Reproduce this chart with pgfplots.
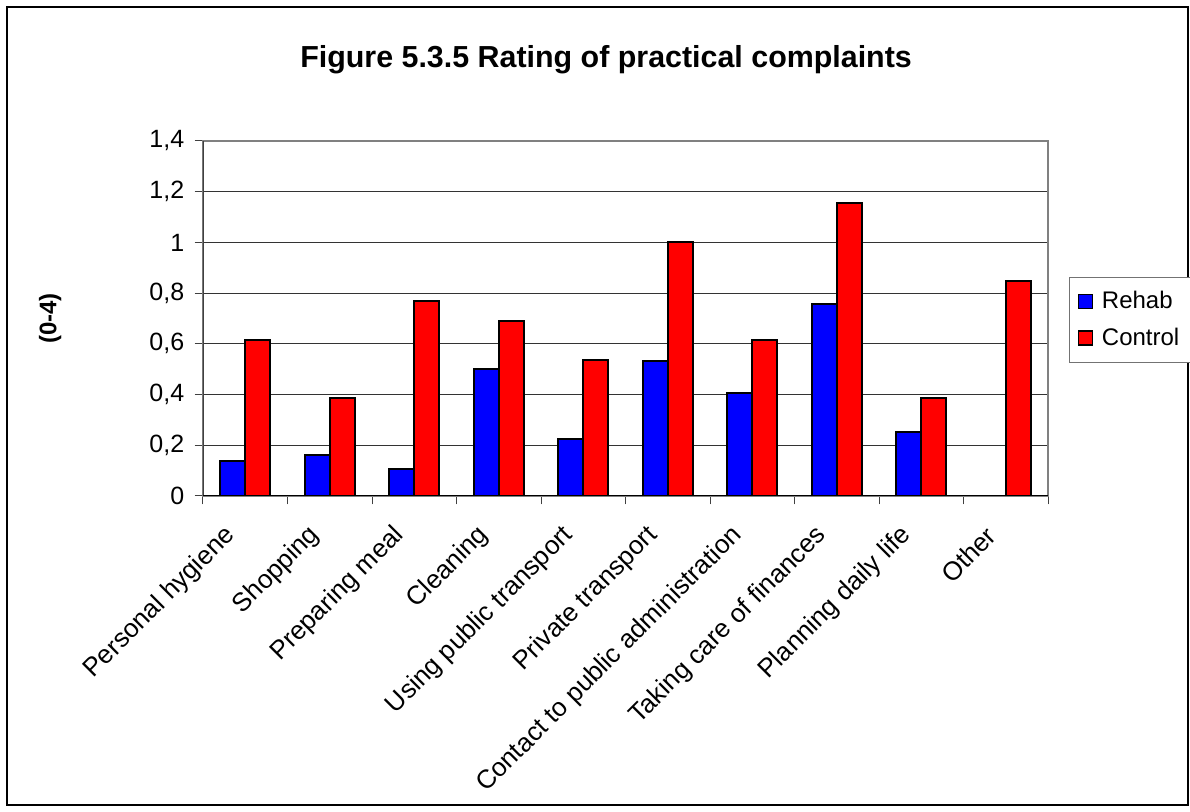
\documentclass[border=0pt]{standalone}
\usepackage{pgfplots}
\usepackage{pgfplotstable}
\pgfplotsset{compat=1.18}
\usepackage{fontspec}
\setmainfont{Liberation Sans}
\definecolor{rehab}{RGB}{0,0,255}
\definecolor{control}{RGB}{255,0,0}
\pgfplotstableread{
x rehab control
0 0.139 0.615
1 0.162 0.385
2 0.108 0.769
3 0.500 0.692
4 0.223 0.538
5 0.531 1.000
6 0.407 0.615
7 0.756 1.154
8 0.254 0.385
9 0.000 0.846
}\data
\begin{document}
\begin{tikzpicture}
\useasboundingbox (0,0) rectangle (595pt,406pt);
\draw[black, line width=0.6pt] (3.5pt,3.5pt) rectangle (594pt,402.5pt);
\begin{axis}[
  at={(101.5pt,158pt)}, anchor=south west,
  scale only axis, width=422.5pt, height=177.5pt,
  ybar=0pt, bar width=12.5pt,
  xmin=-0.5, xmax=9.5, ymin=0, ymax=1.4,
  ytick={0,0.2,0.4,0.6,0.8,1,1.2,1.4},
  xtick={-0.5,0.5,...,9.5},
  x tick label as interval,
  xticklabels={Personal hygiene,Shopping,Preparing meal,Cleaning,Using public transport,Private transport,Contact to public administration,Taking care of finances,Planning daily life,Other},
  tick align=outside, tick pos=left,
  major tick length=4.2pt,
  tick style={black!75, line width=0.5pt},
  ymajorgrids, grid style={black!80, line width=0.5pt},
  axis line style={draw=black!50, line width=0.6pt},
  /pgf/number format/.cd, use comma, fixed, assume math mode=true,
  /pgfplots/.cd,
  yticklabel style={font=\fontsize{12.5}{14}\selectfont, inner sep=0pt, xshift=-5pt},
  xticklabel style={font=\fontsize{13}{15}\selectfont, xshift=-7pt, yshift=-13.5pt, rotate=45, anchor=east, inner sep=0pt},
  title={\bfseries Figure 5.3.5 Rating of practical complaints},
  title style={font=\fontsize{15.2}{18}\selectfont, at={(axis description cs:0.477,1.172)}, anchor=base},
  ylabel={(0-4)},
  every axis y label/.style={at={(axis description cs:-0.181,0.5)}, rotate=90, anchor=center, font=\fontsize{12}{14}\selectfont\bfseries},
  legend style={at={(rel axis cs:1.0249,0.617)}, anchor=north west, draw=black!55, line width=0.5pt,
    font=\fontsize{12}{14}\selectfont, inner xsep=4pt, inner ysep=5pt, row sep=4pt, cells={anchor=west},
    /tikz/every odd column/.append style={column sep=2.5pt}},
]
\addplot[fill=rehab, draw=black, line width=1pt,
  legend image code/.code={\draw[fill=rehab, draw=black, line width=0.7pt] (0pt,-3.5pt) rectangle (7pt,3.5pt);}]
  table[x=x, y=rehab] {\data};
\addplot[fill=control, draw=black, line width=1pt,
  legend image code/.code={\draw[fill=control, draw=black, line width=0.7pt] (0pt,-3.5pt) rectangle (7pt,3.5pt);}]
  table[x=x, y=control] {\data};
\legend{Rehab,Control}
\draw[black!75, line width=0.6pt] (rel axis cs:0,0) -- (rel axis cs:0,1);
\draw[black, line width=0.6pt] (rel axis cs:0,0) -- (rel axis cs:1,0);
\end{axis}
\end{tikzpicture}
\end{document}
